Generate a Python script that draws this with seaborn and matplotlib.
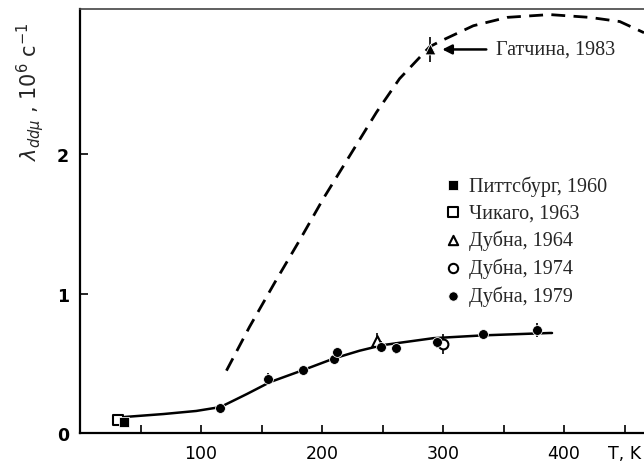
import numpy as np
import pandas as pd
import seaborn as sns
import matplotlib.pyplot as plt

# data (T in K, rate in 10^6 s^-1)
pitt_T = [36]
pitt_L = [0.08]
chic_T = [31]
chic_L = [0.095]
dub64_T = [245]
dub64_L = [0.66]
dub64_err = [0.06]
dub74_T = [300]
dub74_L = [0.64]
dub74_err = [0.07]
dub79_T = [116, 155, 184, 210, 212, 249, 261, 295, 333, 378]
dub79_L = [0.18, 0.39, 0.45, 0.53, 0.58, 0.62, 0.61, 0.65, 0.71, 0.74]
dub79_err = [0.03, 0.04, 0.03, 0.03, 0.03, 0.04, 0.04, 0.04, 0.03, 0.05]
gat_T = [289]
gat_L = [2.75]
gat_err = [0.09]

# solid fit through low-pressure data
fit_T = [37, 69, 96, 116, 138, 157, 184, 210, 231, 250, 292, 333, 388, 390]
fit_L = [0.115, 0.136, 0.158, 0.186, 0.28, 0.365, 0.45, 0.535, 0.59, 0.63, 0.68, 0.70, 0.717, 0.717]
# dashed theoretical curve
th_T = [121, 140, 161, 182, 201, 223, 245, 264, 289, 298, 325, 353, 388, 421, 446, 466]
th_L = [0.447, 0.76, 1.08, 1.39, 1.68, 1.99, 2.30, 2.54, 2.77, 2.81, 2.92, 2.98, 3.00, 2.98, 2.95, 2.87]

sns.set_theme(style="ticks")
plt.rcParams['font.family'] = ['DejaVu Sans']
serif = 'Liberation Serif'

fig = plt.figure(figsize=(6.44, 4.64), dpi=100)
ax = fig.add_axes([80 / 644, 30 / 464, 1 - 80 / 644, 424 / 464])

fit = pd.DataFrame({'T': fit_T, 'L': fit_L})
th = pd.DataFrame({'T': th_T, 'L': th_L})
sns.lineplot(data=fit, x='T', y='L', sort=False, estimator=None, color='black', lw=1.8, ax=ax)
sns.lineplot(data=th, x='T', y='L', sort=False, estimator=None, color='black', lw=2,
             dashes=False, ax=ax).lines[-1].set_dashes((5, 3))

# error bars
for T, L, e in [(dub79_T, dub79_L, dub79_err), (dub64_T, dub64_L, dub64_err),
                (dub74_T, dub74_L, dub74_err), (gat_T, gat_L, gat_err)]:
    ax.errorbar(T, L, yerr=e, fmt='none', ecolor='black', elinewidth=1.2, capsize=0)

ms = 50
sns.scatterplot(x=pitt_T, y=pitt_L, marker='s', color='black', s=ms, ax=ax,
                label='Питтсбург, 1960', zorder=5)
sns.scatterplot(x=chic_T, y=chic_L, marker='s', facecolor='white', edgecolor='black',
                linewidth=1.5, s=ms, ax=ax, label='Чикаго, 1963', zorder=4)
sns.scatterplot(x=dub64_T, y=dub64_L, marker='^', facecolor='white', edgecolor='black',
                linewidth=1.5, s=ms + 10, ax=ax, label='Дубна, 1964', zorder=4)
sns.scatterplot(x=dub74_T, y=dub74_L, marker='o', facecolor='white', edgecolor='black',
                linewidth=1.5, s=ms, ax=ax, label='Дубна, 1974', zorder=4)
sns.scatterplot(x=dub79_T, y=dub79_L, marker='o', color='black', s=ms, ax=ax,
                label='Дубна, 1979', zorder=5)
sns.scatterplot(x=gat_T, y=gat_L, marker='^', color='black', s=ms + 10, ax=ax, zorder=5)

ax.annotate('', xy=(297, 2.75), xytext=(338, 2.75),
            arrowprops=dict(arrowstyle='-|>', color='black', lw=1.8, mutation_scale=14))
ax.text(344, 2.75, 'Гатчина, 1983', family=serif, fontsize=14.5, va='center', ha='left')

leg = ax.legend(loc='upper left', bbox_to_anchor=(0.626, 0.627), frameon=False,
                prop={'family': serif, 'size': 14.5}, handletextpad=0.2,
                labelspacing=0.37, handlelength=1.2, borderaxespad=0)
for h in leg.legend_handles:
    h.set_sizes([45])

ax.set_xlim(0, 466)
ax.set_ylim(0, 3.04)
ax.set_xticks([50, 100, 150, 200, 250, 300, 350, 400, 450])
ax.set_xticklabels(['', '100', '', '200', '', '300', '', '400', 'T, K'], fontsize=12.5)
ax.set_yticks([0, 1, 2])
ax.set_yticklabels(['0', '1', '2'], fontsize=12.5, fontweight='bold')
ax.tick_params(direction='in', length=6, width=1.2, colors='black', pad=8)
ax.set_xlabel('')
ax.set_ylabel('')
for s in ['left', 'bottom']:
    ax.spines[s].set_linewidth(1.6)
    ax.spines[s].set_color('black')
ax.spines['top'].set_linewidth(1.2)
ax.spines['top'].set_color('#444444')
ax.spines['right'].set_visible(False)

fig.text(30 / 644, 1 - 92 / 464, r'$\lambda_{dd\mu}$ , 10$^6$ c$^{-1}$', rotation=90,
         fontsize=15, va='center', ha='center')

fig.savefig('out.png', dpi=100)
